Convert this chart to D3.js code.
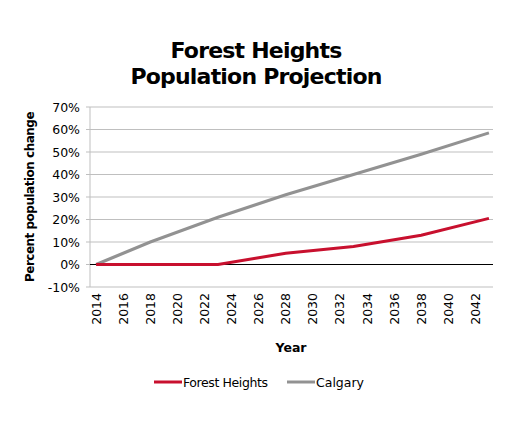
<!DOCTYPE html>
<html><head><meta charset="utf-8">
<script src="https://cdn.jsdelivr.net/npm/d3@7"></script>
<style>body{margin:0;background:#fff;font-family:"DejaVu Sans",sans-serif;}</style>
</head><body><div id="chart"></div>
<script>
const width = 509, height = 425;
const yearTicks = d3.range(2014, 2043, 2);
const pctTicks = [-10, 0, 10, 20, 30, 40, 50, 60, 70];
const forestYears = [2014, 2023, 2028, 2033, 2038, 2043];
const forestVals = [0, 0, 5, 8, 13, 20.5];
const calgaryYears = [2014, 2018, 2023, 2028, 2033, 2038, 2043];
const calgaryVals = [0, 10, 21, 31, 40, 49, 58.5];

const svg = d3.select("#chart").append("svg").attr("width", width).attr("height", height);

const x = d3.scaleLinear().domain([2013.55, 2043.3]).range([90, 493]);
const y = d3.scaleLinear().domain([-10, 70]).range([287, 107]);

svg.append("text").attr("x", 256).attr("y", 58).attr("text-anchor", "middle")
  .attr("font-size", 22).attr("font-weight", "bold").attr("letter-spacing", -0.8).text("Forest Heights");
svg.append("text").attr("x", 256).attr("y", 84).attr("text-anchor", "middle")
  .attr("font-size", 22).attr("font-weight", "bold").attr("letter-spacing", -0.8).text("Population Projection");

// gridlines
svg.selectAll(".grid").data(pctTicks.filter(d => d !== 0)).enter().append("line")
  .attr("x1", 90).attr("x2", 493).attr("y1", d => y(d)).attr("y2", d => y(d))
  .attr("stroke", "#bfbfbf").attr("stroke-width", 1);
svg.append("line").attr("x1", 90).attr("x2", 90).attr("y1", y(70)).attr("y2", y(-10)).attr("stroke", "#bfbfbf");
svg.selectAll(".ytick").data(pctTicks).enter().append("line")
  .attr("x1", 86).attr("x2", 90).attr("y1", d => y(d)).attr("y2", d => y(d)).attr("stroke", "#bfbfbf");
svg.selectAll(".ylab").data(pctTicks).enter().append("text")
  .attr("x", 80).attr("y", d => y(d) + 4.5).attr("text-anchor", "end").attr("font-size", 12.5)
  .text(d => d + "%");
svg.append("line").attr("x1", 90).attr("x2", 493).attr("y1", y(0)).attr("y2", y(0)).attr("stroke", "#000");

svg.selectAll(".xlab").data(yearTicks).enter().append("text")
  .attr("transform", d => `translate(${x(d) + 4.5},293) rotate(-90)`)
  .attr("text-anchor", "end").attr("font-size", 12.5).text(d => d);

svg.append("text").attr("x", 291).attr("y", 352).attr("text-anchor", "middle")
  .attr("font-size", 12.5).attr("font-weight", "bold").text("Year");
svg.append("text").attr("transform", "translate(34,197) rotate(-90)").attr("text-anchor", "middle")
  .attr("font-size", 12).attr("font-weight", "bold").attr("letter-spacing", -0.5).text("Percent population change");

const line = d3.line().x(d => x(d[0])).y(d => y(d[1]));
svg.append("path").datum(calgaryYears.map((d, i) => [d, calgaryVals[i]]))
  .attr("d", line).attr("fill", "none").attr("stroke", "#929292").attr("stroke-width", 3);
svg.append("path").datum(forestYears.map((d, i) => [d, forestVals[i]]))
  .attr("d", line).attr("fill", "none").attr("stroke", "#c8102e").attr("stroke-width", 3);

// legend
svg.append("line").attr("x1", 154).attr("x2", 182).attr("y1", 382).attr("y2", 382).attr("stroke", "#c8102e").attr("stroke-width", 3);
svg.append("text").attr("x", 183).attr("y", 386.5).attr("font-size", 12.5).attr("letter-spacing", -0.4).text("Forest Heights");
svg.append("line").attr("x1", 287).attr("x2", 315).attr("y1", 382).attr("y2", 382).attr("stroke", "#929292").attr("stroke-width", 3);
svg.append("text").attr("x", 316).attr("y", 386.5).attr("font-size", 12.5).text("Calgary");
</script></body></html>
